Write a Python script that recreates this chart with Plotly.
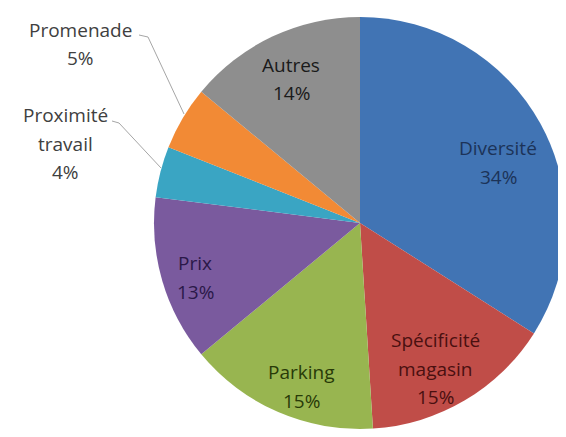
import plotly.graph_objects as go

labels = ["Diversité", "Spécificité magasin", "Parking", "Prix",
          "Proximité travail", "Promenade", "Autres"]
values = [34, 15, 15, 13, 4, 5, 14]
label_lines = [["Diversité"], ["Spécificité", "magasin"], ["Parking"], ["Prix"],
               ["Proximité", "travail"], ["Promenade"], ["Autres"]]

colors = ["#4174b4", "#c04d48", "#98b550", "#7a5a9e", "#3aa5c3", "#f28a35", "#8e8e8e"]
text_colors = ["#1c3358", "#4a1010", "#283a08", "#2a1848", "#404040", "#404040", "#1a1a1a"]

# page body has an 8px margin; work in screen pixels and convert
OFF = 8
W, H = 566 - OFF, 437 - OFF
def px(x):
    return (x - OFF) / W
def py(y):
    return 1 - (y - OFF) / H

# label block: centre x, first line y (screen pixels, layout only)
label_pos = [(498, 148), (435, 340), (301, 372), (195, 263),
             (65, 115), (80, 30), (291, 65)]
LINE = 28.5

cx, cy, R = 360, 223, 206

fig = go.Figure(go.Pie(
    labels=labels,
    values=values,
    sort=False,
    direction="clockwise",
    rotation=0,
    textinfo="none",
    hoverinfo="label+percent",
    marker=dict(colors=colors, line=dict(width=0)),
    domain=dict(x=[px(cx - R), px(cx + R)], y=[py(cy + R), py(cy - R)]),
    showlegend=False,
))

total = sum(values)
annotations = []
for lines, v, (x, y), c in zip(label_lines, values, label_pos, text_colors):
    all_lines = lines + [f"{round(100 * v / total)}%"]
    for i, t in enumerate(all_lines):
        annotations.append(dict(
            x=px(x), y=py(y + i * LINE), xref="paper", yref="paper",
            text=t, showarrow=False,
            font=dict(family="Open Sans", size=19, color=c),
            xanchor="center", yanchor="middle", align="center",
        ))

def path(pts):
    return "M " + " L ".join(f"{px(a)},{py(b)}" for a, b in pts)

shapes = [
    dict(type="path", xref="paper", yref="paper",
         path=path([(139, 35), (148, 37), (184, 114)]),
         line=dict(color="#a6a6a6", width=1)),
    dict(type="path", xref="paper", yref="paper",
         path=path([(112, 121), (119, 123), (161, 168)]),
         line=dict(color="#a6a6a6", width=1)),
]

fig.update_layout(
    width=W, height=H,
    margin=dict(l=0, r=0, t=0, b=0),
    paper_bgcolor="white", plot_bgcolor="white",
    annotations=annotations,
    shapes=shapes,
)

fig.write_html("out.html")
